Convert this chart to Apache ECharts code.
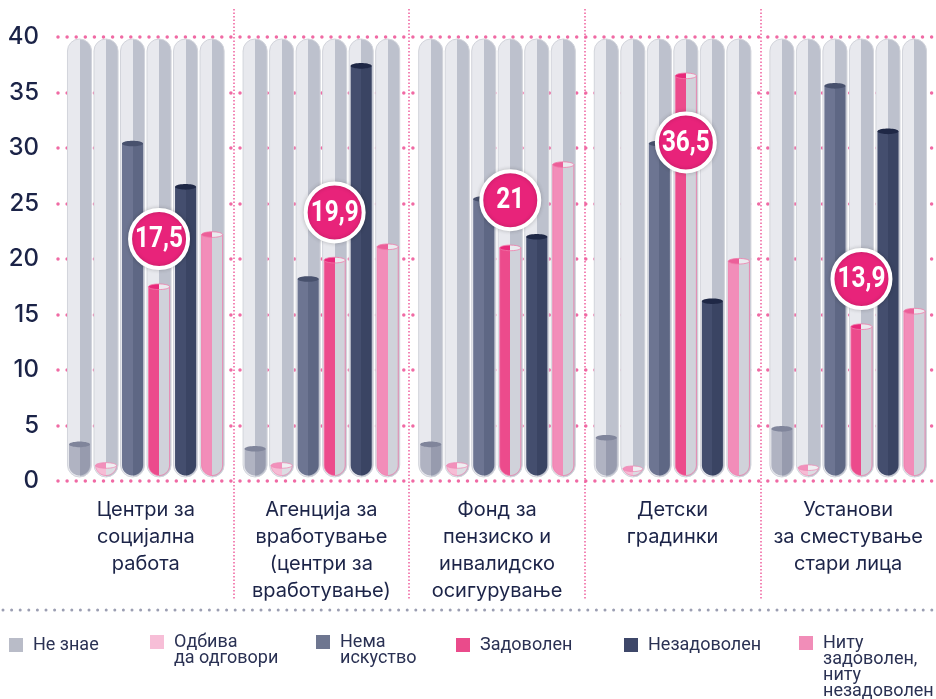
<!DOCTYPE html>
<html>
<head>
<meta charset="utf-8">
<script src="https://cdn.jsdelivr.net/npm/echarts@6/dist/echarts.min.js"></script>
<style>
html, body { margin: 0; padding: 0; background: #fff; }
#main { width: 936px; height: 699px; }
</style>
</head>
<body>
<div id="main"></div>
<script>
var categories = ['Центри за\nсоцијална\nработа', 'Агенција за\nвработување\n(центри за\nвработување)', 'Фонд за\nпензиско и\nинвалидско\nосигурување', 'Детски\nградинки', 'Установи\nза сместување\nстари лица'];
var seriesNames = ['Не знае', 'Одбива да одговори', 'Нема искуство', 'Задоволен', 'Незадоволен', 'Ниту задоволен, ниту незадоволен'];
var legendLabels = ['Не знае', 'Одбива\nда одговори', 'Нема\nискуство', 'Задоволен', 'Незадоволен', 'Ниту\nзадоволен,\nниту\nнезадоволен'];

var neZnae = [3.3, 2.9, 3.3, 3.9, 4.7];
var odbiva = [1.4, 1.4, 1.4, 1.1, 1.2];
var nemaIskustvo = [30.4, 18.2, 25.4, 30.4, 35.6];
var zadovolen = [17.5, 19.9, 21, 36.5, 13.9];
var nezadovolen = [26.5, 37.4, 22.0, 16.2, 31.5];
var nituNitu = [22.2, 21.1, 28.5, 19.8, 15.3];

var yTicks = [0, 5, 10, 15, 20, 25, 30, 35, 40];

var allValues = [neZnae, odbiva, nemaIskustvo, zadovolen, nezadovolen, nituNitu];

// looks of each tube
var looks = [
    {legend: '#b9bcc8', left: '#b0b3c2', right: '#979bae', capL: '#80859b', capR: '#80859b'},
    {legend: '#f7bed7', left: '#f6bcd5', right: '#dcdde3', capL: '#f290bb', capR: '#efeff2', stroke: '#ee8ab5'},
    {legend: '#6e7690', left: '#6d7592', right: '#5e6784', capL: '#48516d', capR: '#48516d'},
    {legend: '#ea4b8b', left: '#ec4b8c', right: '#d0d2da', capL: '#e8287a', capR: '#eaebef', stroke: '#f07aa9'},
    {legend: '#3e4769', left: '#444e6e', right: '#3a4463', capL: '#1f2846', capR: '#1f2846'},
    {legend: '#f18db8', left: '#f28db9', right: '#d0d2da', capL: '#ec5f99', capR: '#eaebef', stroke: '#f07aa9'}
];

function halves(l, r) {
    return {
        type: 'linear', x: 0, y: 0, x2: 1, y2: 0,
        colorStops: [
            {offset: 0, color: l}, {offset: 0.5, color: l},
            {offset: 0.5, color: r}, {offset: 1, color: r}
        ]
    };
}

function tube(cx, w, yt, yb) {
    var r = w / 2, cy = yb - r, pts = [];
    var a0 = 0, a1 = Math.PI, rx = r;
    if (yt < cy) {
        pts.push([cx - r, yt], [cx + r, yt]);
    } else {
        a0 = Math.asin(Math.min(1, (yt - cy) / r));
        a1 = Math.PI - a0;
        rx = r * Math.cos(a0);
    }
    for (var i = 0; i <= 30; i++) {
        var a = a0 + (a1 - a0) * i / 30;
        pts.push([cx + r * Math.cos(a), cy + r * Math.sin(a)]);
    }
    return {pts: pts, rx: rx};
}

function ellipse(cx, cy, rx, ry) {
    var pts = [];
    for (var i = 0; i < 40; i++) {
        var a = Math.PI * 2 * i / 40;
        pts.push([cx + rx * Math.cos(a), cy + ry * Math.sin(a)]);
    }
    return pts;
}

function makeRender(s) {
    var lk = looks[s];
    return function (params, api) {
        var ci = api.value(0), v = api.value(1);
        var base = api.coord([ci, 0]);
        var top = api.coord([ci, v]);
        var top40 = api.coord([ci, 40]);
        var band = api.size([1, 0])[0];
        var cx = base[0] + (s - 2.5) * band * 0.151;
        var bgW = band * 0.137, w = band * 0.12;
        var ybg = base[1] - 4;
        var yv = base[1] - 5.5;
        var t = tube(cx, w, top[1], yv);
        var children = [
            {
                type: 'rect',
                shape: {x: cx - bgW / 2, y: top40[1] + 2, width: bgW, height: ybg - top40[1] - 2, r: bgW / 2},
                style: {fill: halves('#e8e9ee', '#bdc1cd'), stroke: '#d2d4db', lineWidth: 1}
            },
            {
                type: 'polygon',
                shape: {points: t.pts},
                style: {fill: halves(lk.left, lk.right), stroke: lk.stroke || null, lineWidth: 0.8}
            },
            {
                type: 'polygon',
                shape: {points: ellipse(cx, top[1], t.rx, 2.8)},
                style: {fill: halves(lk.capL, lk.capR), stroke: lk.stroke || null, lineWidth: 0.8}
            }
        ];
        if (s === 3) {
            var ly = v > 30 ? v - 6 : v + 4.3;
            var lc = api.coord([ci, ly]);
            children.push({
                type: 'circle',
                z2: 100,
                shape: {cx: cx, cy: lc[1], r: 29},
                style: {fill: '#e8237a', stroke: '#fff', lineWidth: 4, shadowBlur: 4, shadowColor: 'rgba(0,0,0,0.18)'}
            });
            children.push({
                type: 'text',
                z2: 101,
                x: cx,
                y: lc[1] + 1,
                scaleX: 0.84,
                style: {
                    text: String(v).replace('.', ','),
                    fill: '#fff',
                    font: 'bold 29px Roboto, sans-serif',
                    align: 'center',
                    verticalAlign: 'middle'
                }
            });
        }
        return {type: 'group', children: children};
    };
}

var series = allValues.map(function (vals, s) {
    return {
        name: seriesNames[s],
        type: 'custom',
        xAxisIndex: 0,
        yAxisIndex: 0,
        itemStyle: {color: looks[s].legend},
        encode: {x: 0, y: 1},
        renderItem: makeRender(s),
        data: vals.map(function (v, i) { return [i, v]; })
    };
});

var legendSpots = [
    {left: 9, top: 636, h: 14},
    {left: 150, top: 633, h: 30},
    {left: 316, top: 633, h: 30},
    {left: 456, top: 636, h: 14},
    {left: 624, top: 636, h: 14},
    {left: 799, top: 634, h: 62}
];

var legends = legendSpots.map(function (p, s) {
    return {
        data: [seriesNames[s]],
        left: p.left,
        top: p.top,
        padding: 0,
        itemWidth: 14,
        itemHeight: p.h,
        icon: p.h === 14 ? 'rect' : 'path://M0,0H14V14H0Z M7,' + (p.h - 0.1) + 'h0.1v0.1h-0.1Z',
        formatter: function (name) { return legendLabels[seriesNames.indexOf(name)]; },
        textStyle: {
            color: '#2a3153',
            fontSize: 18,
            lineHeight: 16,
            fontFamily: 'Roboto',
            padding: [0, 0, 0, 5]
        }
    };
});

var myChart = echarts.init(document.getElementById('main'));
var option = {
    animation: false,
    backgroundColor: '#fff',
    grid: [
        {left: 58, right: 0, top: 37, bottom: 218},
        {left: 58, right: 0, top: 9, bottom: 99}
    ],
    legend: legends,
    xAxis: [
        {
            type: 'category',
            gridIndex: 0,
            data: categories,
            axisLine: {show: false},
            axisTick: {show: false},
            splitLine: {show: false},
            axisLabel: {
                interval: 0,
                margin: 15,
                color: '#1c2448',
                fontFamily: 'Inter',
                fontSize: 20,
                lineHeight: 27,
                verticalAlign: 'top'
            }
        },
        {
            type: 'category',
            gridIndex: 1,
            data: categories,
            axisLine: {show: false},
            axisTick: {show: false},
            axisLabel: {show: false},
            splitLine: {
                show: true,
                showMinLine: false,
                showMaxLine: false,
                lineStyle: {color: '#ef5f9d', width: 1.5, type: [1.5, 2]}
            }
        }
    ],
    yAxis: [
        {
            type: 'value',
            gridIndex: 0,
            min: yTicks[0],
            max: yTicks[yTicks.length - 1],
            interval: yTicks[1] - yTicks[0],
            axisLine: {show: false},
            axisTick: {show: false},
            axisLabel: {
                margin: 19,
                color: '#1b2347',
                fontFamily: 'Inter',
                fontWeight: 500,
                fontSize: 24
            },
            splitLine: {
                lineStyle: {color: '#f06aa4', width: 3.5, type: [0, 9.1], cap: 'round'}
            }
        },
        {
            type: 'value',
            gridIndex: 1,
            show: false
        }
    ],
    graphic: [
        {
            type: 'line',
            shape: {x1: 3, y1: 610, x2: 936, y2: 610},
            style: {stroke: '#9b9eb2', lineWidth: 3, lineDash: [0, 8.6], lineCap: 'round'}
        }
    ],
    series: series
};
myChart.setOption(option);
</script>
</body>
</html>
